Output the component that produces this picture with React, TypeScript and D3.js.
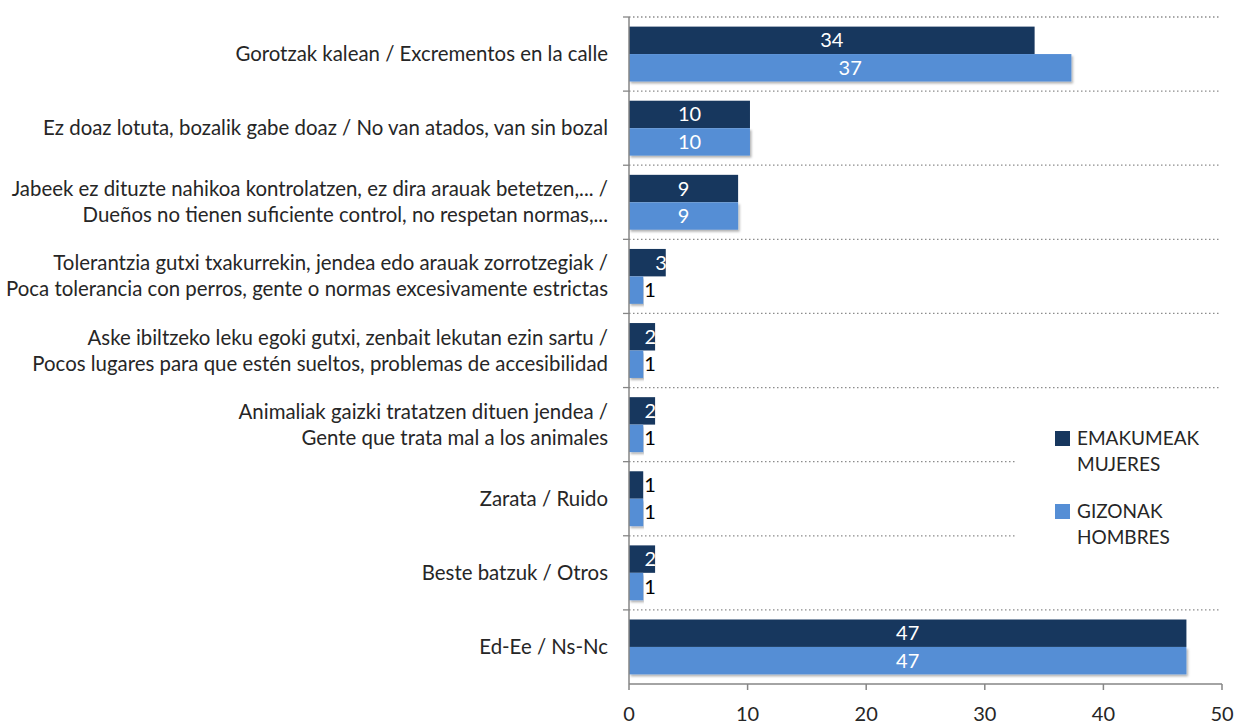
import * as d3 from 'd3';

const categories: string[][] = [
  ['Gorotzak kalean / Excrementos en la calle'],
  ['Ez doaz lotuta, bozalik gabe doaz / No van atados, van sin bozal'],
  ['Jabeek ez dituzte nahikoa kontrolatzen, ez dira arauak betetzen,... /', 'Dueños no tienen suficiente control, no respetan normas,...'],
  ['Tolerantzia gutxi txakurrekin, jendea edo arauak zorrotzegiak /', 'Poca tolerancia con perros, gente o normas excesivamente estrictas'],
  ['Aske ibiltzeko leku egoki gutxi, zenbait lekutan ezin sartu /', 'Pocos lugares para que estén sueltos, problemas de accesibilidad'],
  ['Animaliak gaizki tratatzen dituen jendea /', 'Gente que trata mal a los animales'],
  ['Zarata / Ruido'],
  ['Beste batzuk / Otros'],
  ['Ed-Ee / Ns-Nc'],
];

const emakumeak = [34.2, 10.2, 9.2, 3.1, 2.2, 2.2, 1.2, 2.2, 47.0];
const gizonak = [37.3, 10.2, 9.2, 1.2, 1.2, 1.2, 1.2, 1.2, 47.0];

const seriesNames = [['EMAKUMEAK', 'MUJERES'], ['GIZONAK', 'HOMBRES']];
const colors = ['#17375E', '#558ED5'];
const xTicks = [0, 10, 20, 30, 40, 50];

const W = 1236;
const H = 724;
const left = 629;
const right = 1222;
const top = 17;
const bottom = 684;
const font = "Lato, 'Open Sans', sans-serif";

export default function App() {
  const x = d3.scaleLinear().domain([0, 50]).range([left, right]);
  const y = d3
    .scaleBand<number>()
    .domain(d3.range(categories.length))
    .range([top, bottom])
    .paddingInner(0)
    .paddingOuter(0);
  const inner = d3
    .scaleBand<number>()
    .domain([0, 1])
    .range([0, y.bandwidth()])
    .paddingOuter(0.35)
    .paddingInner(0);

  const series = [emakumeak, gizonak];
  const boundaries = d3.range(categories.length).map((i) => y(i)!);

  return (
    <svg width={W} height={H} style={{ position: 'absolute', left: 0, top: 0 }} fontFamily={font}>
      <defs>
        <filter id="sh" x="-5%" y="-20%" width="110%" height="150%">
          <feDropShadow dx="1.5" dy="2" stdDeviation="1.2" floodColor="#000" floodOpacity="0.3" />
        </filter>
      </defs>
      <rect width={W} height={H} fill="#fff" />

      {/* gridlines */}
      {boundaries.map((b, i) => (
        <g key={i}>
          <line x1={left} x2={1220} y1={b} y2={b} stroke="#8c8c8c" strokeWidth={1.3} strokeDasharray="1.5 2.5" />
          <line x1={left - 6} x2={left} y1={b} y2={b} stroke="#868686" strokeWidth={1.3} />
        </g>
      ))}

      {/* bars */}
      {series.map((vals, s) =>
        vals.map((v, i) => (
          <rect
            key={`${s}-${i}`}
            x={x(0)}
            y={y(i)! + inner(s)!}
            width={x(v) - x(0)}
            height={inner.bandwidth()}
            fill={colors[s]}
            filter={s === 1 ? 'url(#sh)' : undefined}
          />
        ))
      )}

      {/* value labels */}
      {series.map((vals, s) =>
        vals.map((v, i) => {
          const r = Math.round(v);
          const cy = y(i)! + inner(s)! + inner.bandwidth() / 2 + 7;
          let tx = (x(0) + x(v)) / 2;
          let anchor = 'middle';
          let fill = '#fff';
          if (v < 1.5) {
            tx = x(v) + 1;
            anchor = 'start';
            fill = '#000';
          } else if (v < 5) {
            tx = x(v) + 1;
            anchor = 'end';
          }
          return (
            <text key={`l${s}-${i}`} x={tx} y={cy} textAnchor={anchor} fill={fill} fontSize={20}>
              {r}
            </text>
          );
        })
      )}

      {/* axes */}
      <line x1={left} x2={left} y1={top} y2={bottom} stroke="#868686" strokeWidth={1.5} />
      <line x1={left} x2={right} y1={bottom} y2={bottom} stroke="#868686" strokeWidth={1.5} />
      {xTicks.map((t) => (
        <g key={t}>
          <line x1={x(t)} x2={x(t)} y1={bottom} y2={bottom + 6} stroke="#868686" strokeWidth={1.5} />
          <text x={x(t)} y={bottom + 37} textAnchor="middle" fontSize={20} fill="#262626">
            {t}
          </text>
        </g>
      ))}

      {/* category labels */}
      {categories.map((lines, i) => {
        const cy = y(i)! + y.bandwidth() / 2;
        const lh = 26;
        const start = cy - ((lines.length - 1) * lh) / 2 + 7;
        return (
          <text key={i} textAnchor="end" fontSize={20.4} fill="#262626">
            {lines.map((ln, k) => (
              <tspan key={k} x={608} y={start + k * lh}>
                {ln}
              </tspan>
            ))}
          </text>
        );
      })}

      {/* legend */}
      <rect x={1015} y={396} width={210} height={160} fill="#fff" />
      {seriesNames.map((names, s) => (
        <g key={s} transform={`translate(1055, ${431 + s * 73})`}>
          <rect width={15} height={15} fill={colors[s]} />
          {names.map((n, k) => (
            <text key={k} x={22} y={14 + k * 26} fontSize={19} fill="#262626">
              {n}
            </text>
          ))}
        </g>
      ))}
    </svg>
  );
}
